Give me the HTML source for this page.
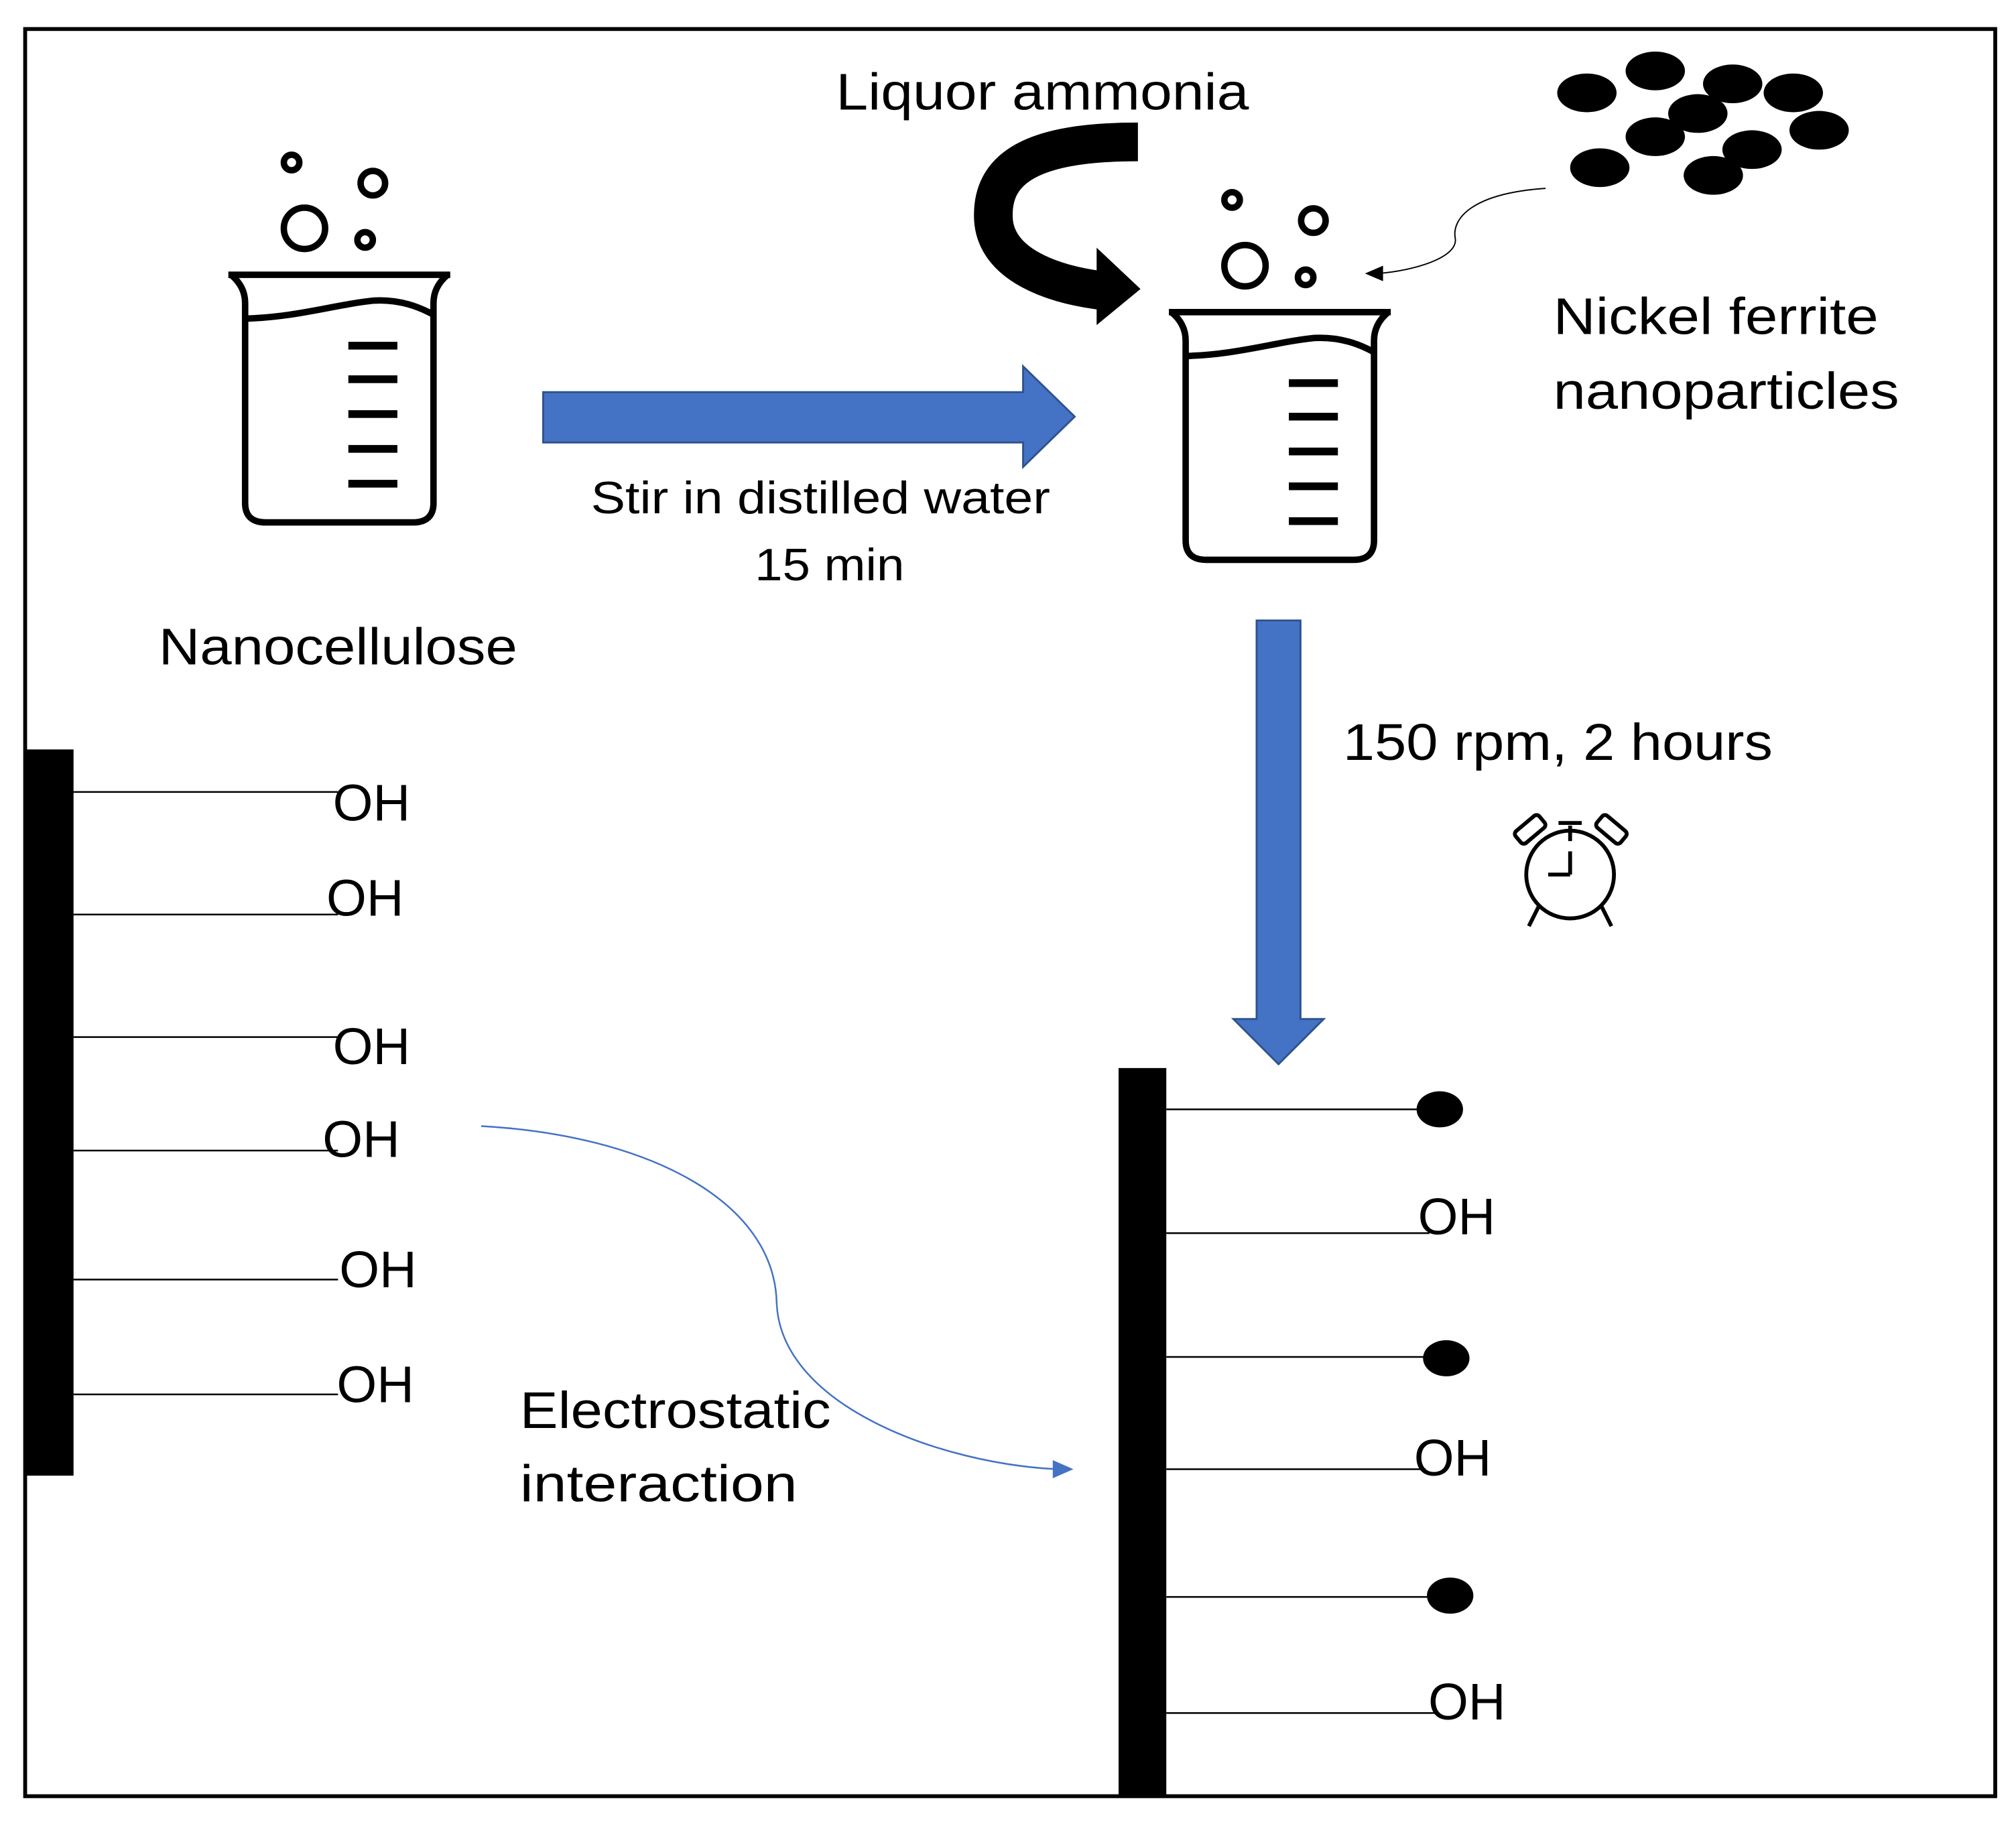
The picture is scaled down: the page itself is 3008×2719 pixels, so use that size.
<!DOCTYPE html>
<html><head><meta charset="utf-8"><style>html,body{margin:0;padding:0;background:#fff}svg{display:block}</style></head>
<body>
<svg width="3008" height="2719" viewBox="0 0 1562.6 1412.5" preserveAspectRatio="none" xmlns="http://www.w3.org/2000/svg" font-family="'Liberation Sans',sans-serif">
<rect x="0" y="0" width="1563" height="1413" fill="#fff"/>
<rect x="19.5" y="22.5" width="1527" height="1370" fill="none" stroke="#000" stroke-width="3"/>
<defs>
<g id="bk">
<g fill="none" stroke="#000" stroke-width="5">
<circle cx="226" cy="126" r="6"/><circle cx="289" cy="142" r="9.5"/><circle cx="236" cy="177" r="16"/><circle cx="283" cy="186" r="6"/>
<path d="M177,213 L349,213 M179,213 Q190,222 190,235 L190,390 Q190,405 206,405 L320,405 Q336,405 336,390 L336,235 Q336,222 347,213" stroke-linejoin="round"/>
<path d="M190,247 C230,246 260,236 290,233 C310,232 325,238 336,244"/>
</g>
<g fill="#000"><rect x="270" y="265" width="38" height="6"/><rect x="270" y="291" width="38" height="6"/><rect x="270" y="318" width="38" height="6"/><rect x="270" y="345" width="38" height="6"/><rect x="270" y="372" width="38" height="6"/></g>
</g>
</defs>
<use href="#bk"/>
<use href="#bk" transform="translate(729,29)"/>
<!-- blue arrows -->
<polygon points="421,304 793,304 793,284 833,323 793,362 793,343 421,343" fill="#4472C4" stroke="#2F528F" stroke-width="1.5"/>
<polygon points="974,481 1008,481 1008,790 1026,790 991,825 956,790 974,790" fill="#4472C4" stroke="#2F528F" stroke-width="1.5"/>
<!-- curved black arrow -->
<path d="M882,110 C800,110 768,130 770,170 C772,205 815,220 852,225" fill="none" stroke="#000" stroke-width="30"/>
<polygon points="850,192 884,224 850,252" fill="#000"/>
<!-- nanoparticles -->
<g fill="#000">
<ellipse cx="1230" cy="72" rx="23" ry="15"/><ellipse cx="1283" cy="55" rx="23" ry="15"/><ellipse cx="1343" cy="65" rx="23" ry="15"/><ellipse cx="1390" cy="72" rx="23" ry="15"/><ellipse cx="1316" cy="88" rx="23" ry="15"/><ellipse cx="1283" cy="106" rx="23" ry="15"/><ellipse cx="1410" cy="101" rx="23" ry="15"/><ellipse cx="1240" cy="130" rx="23" ry="15"/><ellipse cx="1358" cy="116" rx="23" ry="15"/><ellipse cx="1328" cy="136" rx="23" ry="15"/>
</g>
<path d="M1198,146 C1140,150 1125,170 1128,185 C1130,200 1095,210 1068,212" fill="none" stroke="#000" stroke-width="1"/>
<polygon points="1058,212 1072,206 1072,218" fill="#000"/>
<!-- alarm clock -->
<g fill="none" stroke="#000" stroke-width="3">
<circle cx="1217" cy="678" r="34"/>
<path d="M1217,652 L1217,640 M1208,638 L1226,638 M1217,678 L1217,660 M1217,678 L1200,678 M1193,702 L1185,718 M1241,702 L1249,718"/>
<rect x="1174" y="637" width="24" height="12" rx="3" transform="rotate(-40 1186 643)"/>
<rect x="1237" y="637" width="24" height="12" rx="3" transform="rotate(40 1249 643)"/>
</g>
<!-- bars -->
<rect x="19" y="581" width="38" height="563" fill="#000"/>
<rect x="867" y="828" width="37" height="564" fill="#000"/>
<g stroke="#000" stroke-width="1.3">
<line x1="57" y1="614" x2="262" y2="614"/><line x1="57" y1="709" x2="262" y2="709"/><line x1="57" y1="804" x2="262" y2="804"/><line x1="57" y1="892" x2="262" y2="892"/><line x1="57" y1="992" x2="262" y2="992"/><line x1="57" y1="1081" x2="262" y2="1081"/>
<line x1="904" y1="860" x2="1100" y2="860"/><line x1="904" y1="956" x2="1108" y2="956"/><line x1="904" y1="1052" x2="1105" y2="1052"/><line x1="904" y1="1139" x2="1105" y2="1139"/><line x1="904" y1="1238" x2="1108" y2="1238"/><line x1="904" y1="1328" x2="1115" y2="1328"/>
</g>
<g fill="#000"><ellipse cx="1116" cy="860" rx="18" ry="14"/><ellipse cx="1121" cy="1053" rx="18" ry="14"/><ellipse cx="1124" cy="1237" rx="18" ry="14"/></g>
<!-- electrostatic curve -->
<path d="M373,873 C500,880 600,930 602,1010 C605,1090 730,1135 820,1139" fill="none" stroke="#4472C4" stroke-width="1.3"/>
<polygon points="832,1139 816,1132 816,1146" fill="#4472C4"/>
<!-- text -->
<g font-size="40" fill="#000">
<text x="258" y="636">OH</text><text x="253" y="710">OH</text><text x="258" y="825">OH</text><text x="250" y="897">OH</text><text x="263" y="998">OH</text><text x="261" y="1087">OH</text>
<text x="1099" y="957">OH</text><text x="1096" y="1144">OH</text><text x="1107" y="1333">OH</text>
<text x="648" y="85" textLength="320" lengthAdjust="spacingAndGlyphs">Liquor ammonia</text>
<text x="1204" y="259" textLength="252" lengthAdjust="spacingAndGlyphs">Nickel ferrite</text>
<text x="1204" y="317" textLength="268" lengthAdjust="spacingAndGlyphs">nanoparticles</text>
<text x="123" y="515" textLength="278" lengthAdjust="spacingAndGlyphs">Nanocellulose</text>
<text x="1041" y="589" textLength="333" lengthAdjust="spacingAndGlyphs">150 rpm, 2 hours</text>
<text x="403" y="1107" textLength="241" lengthAdjust="spacingAndGlyphs">Electrostatic</text>
<text x="403" y="1164" textLength="215" lengthAdjust="spacingAndGlyphs">interaction</text>
</g>
<g font-size="35" fill="#000">
<text x="458" y="398" textLength="356" lengthAdjust="spacingAndGlyphs">Stir in distilled water</text>
<text x="585" y="450" textLength="116" lengthAdjust="spacingAndGlyphs">15 min</text>
</g>
</svg>
</body></html>
